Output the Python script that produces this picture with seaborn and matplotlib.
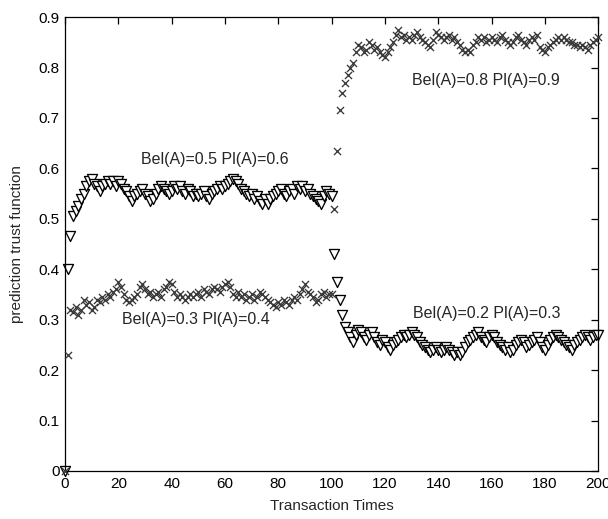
import seaborn as sns
import matplotlib.pyplot as plt
import numpy as np
import pandas as pd

# values, one per transaction (0..200)
cross_vals = [
    0.00, 0.23, 0.32, 0.315, 0.325, 0.31, 0.32, 0.34, 0.33, 0.335,
    0.32, 0.325, 0.34, 0.335, 0.345, 0.34, 0.35, 0.345, 0.355, 0.36,
    0.375, 0.365, 0.35, 0.34, 0.335, 0.34, 0.345, 0.35, 0.365, 0.37,
    0.36, 0.35, 0.355, 0.345, 0.35, 0.355, 0.345, 0.36, 0.365, 0.375,
    0.37, 0.355, 0.345, 0.35, 0.345, 0.34, 0.345, 0.35, 0.345, 0.35,
    0.355, 0.345, 0.36, 0.355, 0.35, 0.36, 0.365, 0.36, 0.355, 0.365,
    0.37, 0.375, 0.365, 0.35, 0.345, 0.355, 0.345, 0.35, 0.34, 0.345,
    0.35, 0.34, 0.345, 0.355, 0.35, 0.345, 0.34, 0.335, 0.33, 0.325,
    0.335, 0.33, 0.34, 0.335, 0.33, 0.34, 0.345, 0.34, 0.35, 0.36,
    0.37, 0.355, 0.35, 0.345, 0.335, 0.34, 0.35, 0.355, 0.345, 0.35,
    0.35, 0.52, 0.635, 0.715, 0.75, 0.77, 0.785, 0.80, 0.81, 0.83,
    0.845, 0.84, 0.83, 0.835, 0.85, 0.845, 0.835, 0.84, 0.83, 0.825,
    0.82, 0.83, 0.84, 0.85, 0.865, 0.875, 0.86, 0.865, 0.855, 0.86,
    0.855, 0.865, 0.87, 0.86, 0.855, 0.85, 0.845, 0.84, 0.855, 0.87,
    0.865, 0.86, 0.855, 0.86, 0.865, 0.855, 0.86, 0.85, 0.845, 0.835,
    0.83, 0.835, 0.83, 0.845, 0.85, 0.86, 0.855, 0.86, 0.85, 0.855,
    0.86, 0.855, 0.85, 0.86, 0.865, 0.855, 0.85, 0.845, 0.85, 0.86,
    0.865, 0.855, 0.85, 0.845, 0.855, 0.86, 0.855, 0.865, 0.84, 0.835,
    0.83, 0.84, 0.845, 0.85, 0.855, 0.86, 0.855, 0.86, 0.855, 0.85,
    0.85, 0.845, 0.845, 0.84, 0.845, 0.84, 0.835, 0.845, 0.85, 0.855,
    0.86,
]

tri_vals = [
    0.00, 0.40, 0.465, 0.505, 0.515, 0.525, 0.54, 0.55, 0.565, 0.575,
    0.58, 0.57, 0.565, 0.555, 0.565, 0.57, 0.575, 0.57, 0.575, 0.565,
    0.575, 0.57, 0.56, 0.555, 0.545, 0.535, 0.545, 0.55, 0.555, 0.56,
    0.55, 0.545, 0.535, 0.54, 0.55, 0.56, 0.565, 0.56, 0.555, 0.55,
    0.555, 0.565, 0.56, 0.565, 0.555, 0.55, 0.56, 0.555, 0.545, 0.55,
    0.545, 0.55, 0.555, 0.545, 0.54, 0.55, 0.555, 0.56, 0.565, 0.56,
    0.565, 0.57, 0.575, 0.58, 0.575, 0.57, 0.56, 0.555, 0.55, 0.545,
    0.55, 0.54, 0.545, 0.535, 0.53, 0.54, 0.53, 0.54, 0.545, 0.55,
    0.555, 0.56, 0.55, 0.545, 0.555, 0.56, 0.55, 0.565, 0.56, 0.565,
    0.555, 0.56, 0.55, 0.545, 0.54, 0.535, 0.53, 0.545, 0.555, 0.55,
    0.545, 0.43, 0.375, 0.34, 0.31, 0.285, 0.275, 0.265, 0.255, 0.27,
    0.28, 0.275, 0.265, 0.26, 0.27, 0.275, 0.265, 0.255, 0.25, 0.26,
    0.255, 0.245, 0.24, 0.25, 0.255, 0.26, 0.265, 0.27, 0.265, 0.27,
    0.275, 0.27, 0.265, 0.255, 0.25, 0.245, 0.24, 0.235, 0.24, 0.245,
    0.24, 0.235, 0.24, 0.245, 0.24, 0.235, 0.23, 0.235, 0.23, 0.235,
    0.245, 0.255, 0.26, 0.265, 0.27, 0.275, 0.265, 0.26, 0.255, 0.265,
    0.27, 0.265, 0.255, 0.25, 0.245, 0.24, 0.245, 0.235, 0.24, 0.25,
    0.255, 0.26, 0.255, 0.245, 0.25, 0.255, 0.26, 0.265, 0.255, 0.245,
    0.24, 0.25, 0.26, 0.265, 0.27, 0.265, 0.26, 0.255, 0.25, 0.245,
    0.24, 0.25, 0.255, 0.26, 0.265, 0.27, 0.265, 0.26, 0.265, 0.27,
    0.27,
]

times = list(range(len(cross_vals)))

x_ticks = [0, 20, 40, 60, 80, 100, 120, 140, 160, 180, 200]
y_ticks = [0, 0.1, 0.2, 0.3, 0.4, 0.5, 0.6, 0.7, 0.8, 0.9]
y_tick_labels = ["0", "0.1", "0.2", "0.3", "0.4", "0.5", "0.6", "0.7", "0.8", "0.9"]

labels = ["Bel(A)=0.5 Pl(A)=0.6", "Bel(A)=0.3 Pl(A)=0.4",
          "Bel(A)=0.8 Pl(A)=0.9", "Bel(A)=0.2 Pl(A)=0.3"]
label_x = [28.5, 21.5, 130, 130.5]
label_y = [0.617, 0.301, 0.775, 0.313]

df_c = pd.DataFrame({"t": times, "v": cross_vals})
df_t = pd.DataFrame({"t": times, "v": tri_vals})

sns.set_style("white")
plt.rcParams['font.family'] = ['Liberation Sans', 'DejaVu Sans']

fig = plt.figure(figsize=(6.08, 5.19), dpi=100)
ax = fig.add_axes([0.107, 0.0925, 0.877, 0.8745])

sns.scatterplot(data=df_c, x="t", y="v", marker="x", color="#383838",
                s=26, linewidth=0.95, ax=ax, zorder=3, clip_on=False)
sns.scatterplot(data=df_t, x="t", y="v", marker="v", facecolor="white",
                edgecolor="black", s=52, linewidth=0.95, ax=ax, zorder=2,
                clip_on=False)

for txt, tx, ty in zip(labels, label_x, label_y):
    ax.text(tx, ty, txt, fontsize=11.5, va="center", ha="left")

ax.set_xlim(0, 200)
ax.set_ylim(0, 0.9)
ax.set_xticks(x_ticks)
ax.set_yticks(y_ticks)
ax.set_yticklabels(y_tick_labels)
ax.tick_params(direction="in", length=5, width=0.9, top=True, right=True,
               labelsize=11, colors="black", pad=4)
for sp in ax.spines.values():
    sp.set_visible(True)
    sp.set_color("black")
    sp.set_linewidth(0.9)

ax.set_xlabel("Transaction Times", fontsize=11, labelpad=6)
ax.set_ylabel("prediction trust function", fontsize=11, labelpad=10)

fig.savefig("out.png", dpi=100)
